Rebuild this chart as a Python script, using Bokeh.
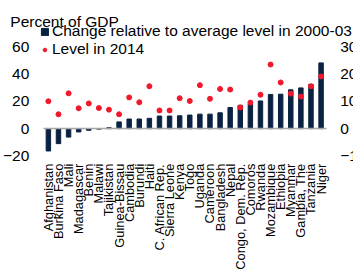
from math import pi
from bokeh.plotting import figure
from bokeh.models import (Range1d, LinearAxis, FixedTicker, Legend,
                          LegendItem, Label)
from bokeh.embed import file_html
from bokeh.resources import INLINE

countries = ["Afghanistan", "Burkina Faso", "Mali", "Madagascar", "Benin",
             "Malawi", "Tajikistan", "Guinea-Bissau", "Cambodia", "Burundi",
             "Haiti", "C. African Rep.", "Sierra Leone", "Kenya", "Togo",
             "Uganda", "Cameroon", "Bangladesh", "Nepal", "Congo, Dem. Rep.",
             "Comoros", "Rwanda", "Mozambique", "Ethiopia", "Myanmar",
             "Gambia, The", "Tanzania", "Niger"]
change_vs_2000_03 = [-16.4, -11.0, -6.2, -2.4, -1.2, -0.3, 0.7, 5.0, 7.1, 7.1,
                     7.6, 9.3, 9.3, 9.5, 10.0, 10.7, 10.7, 11.7, 15.6, 17.2,
                     18.2, 20.4, 25.2, 25.4, 28.6, 30.0, 32.6, 48.4]
level_2014 = [10.1, 5.3, 13.0, 7.5, 9.3, 7.6, 7.0, 5.3, 11.5, 9.7,
              15.6, 6.7, 6.7, 11.2, 10.2, 16.0, 11.0, 14.6, 14.4, 7.8,
              9.6, 12.5, 23.6, 17.0, 12.9, 11.8, 15.6, 19.2]
left_ticks = [-20, 0, 20, 40, 60]
right_ticks = [-10, 0, 10, 20, 30]

NAVY = "#0a2242"
RED = "#f0192b"
FONT = "Liberation Sans"

n = len(countries)
pos = list(range(n))

# The frame covers the whole canvas; axes are pinned inside it.
p = figure(x_range=Range1d(-4.74, n - 1 + 3.21), y_range=Range1d(-103.6, 94.3),
           width=353, height=269, output_backend="svg", toolbar_location=None,
           min_border=0, x_axis_type=None, y_axis_type=None)
p.title_location = None
p.extra_y_ranges = {"right": Range1d(-51.8, 47.15)}
p.outline_line_color = None
p.background_fill_color = "white"
p.border_fill_color = "white"
p.grid.visible = False

bars = p.vbar(x=pos, top=change_vs_2000_03, width=0.44, color=NAVY)
dots = p.scatter(x=pos, y=level_2014, y_range_name="right", size=5,
                 color=RED)


def style(ax, size):
    ax.major_tick_line_color = None
    ax.minor_tick_line_color = None
    ax.major_tick_out = 0
    ax.major_tick_in = 0
    ax.minor_tick_out = 0
    ax.minor_tick_in = 0
    ax.major_label_text_font = FONT
    ax.major_label_text_font_size = size
    ax.major_label_text_color = "black"


ax_l = LinearAxis(ticker=FixedTicker(ticks=left_ticks), fixed_location=-0.5,
                  axis_line_color=None, major_label_standoff=14)
style(ax_l, "15.5px")
p.add_layout(ax_l, "left")

ax_r = LinearAxis(y_range_name="right", ticker=FixedTicker(ticks=right_ticks),
                  fixed_location=n - 0.5, axis_line_color=None,
                  major_label_standoff=14)
style(ax_r, "15.5px")
p.add_layout(ax_r, "right")

# category axis: its line is the zero line, names sit below the -20 level
ax_b = LinearAxis(ticker=FixedTicker(ticks=pos), fixed_location=0,
                  bounds=(-0.5, n - 0.5), axis_line_color="#a6a6a6",
                  axis_line_width=1.5, major_label_standoff=35,
                  major_label_orientation=pi / 2,
                  major_label_overrides={i: c for i, c in enumerate(countries)})
style(ax_b, "12.8px")
p.add_layout(ax_b, "below")

legend = Legend(items=[
    LegendItem(label="Change relative to average level in 2000-03", renderers=[bars]),
    LegendItem(label="Level in 2014", renderers=[dots])],
    location=(40, 211), orientation="vertical", glyph_width=9, glyph_height=9,
    label_height=17, spacing=0, padding=0, margin=0, label_standoff=3,
    border_line_color=None, background_fill_alpha=0,
    label_text_font_size="15.5px", label_text_font=FONT,
    label_text_color="black")
p.add_layout(legend)

p.add_layout(Label(x=9.8, y=248.5, x_units="screen", y_units="screen",
                   text="Percent of GDP", text_font_size="15.5px",
                   text_font=FONT, text_color="black",
                   text_baseline="alphabetic"))

open("out.html", "w").write(file_html(p, INLINE))
